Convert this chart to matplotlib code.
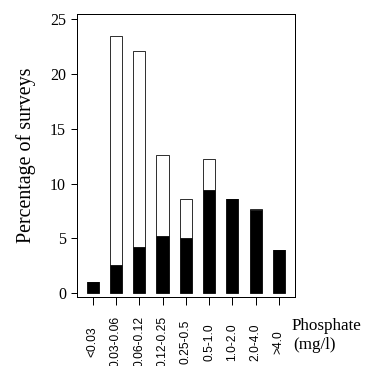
import matplotlib
matplotlib.use("Agg")
import matplotlib.pyplot as plt
import numpy as np

# phosphate classes (mg/l)
classes = ["<0.03", "0.03-0.06", "0.06-0.12", "0.12-0.25", "0.25-0.5",
           "0.5-1.0", "1.0-2.0", "2.0-4.0", ">4.0"]
# black part of each bar and the bar's total height (% of surveys)
black_part = [1.0, 2.6, 4.25, 5.2, 5.05, 9.4, 8.6, 7.55, 3.9]
bar_total = [1.0, 23.5, 22.1, 12.6, 8.6, 12.2, 8.6, 7.7, 3.9]
yticks = [0, 5, 10, 15, 20, 25]

serif = ["Liberation Serif", "DejaVu Serif"]

fig = plt.figure(figsize=(368 / 72, 366 / 72), dpi=72)
ax = fig.add_axes([0.209, 0.189, 0.593, 0.773])

x = np.arange(len(classes))
white_part = [t - b for t, b in zip(bar_total, black_part)]
ax.bar(x, black_part, width=0.52, color="black", edgecolor="black", linewidth=0.8)
ax.bar(x, white_part, width=0.52, bottom=black_part, color="white",
       edgecolor="black", linewidth=0.8)

ax.set_xlim(-0.68, 8.7)
ax.set_ylim(-0.34, 25.48)

ax.set_yticks(yticks)
ax.set_yticklabels([str(v) for v in yticks], fontfamily=serif, fontsize=16)
ax.tick_params(axis="y", direction="out", length=6, width=1, pad=5)

ax.set_xticks(x)
ax.set_xticklabels(classes, rotation=90, va="center",
                   fontfamily=["Liberation Sans Narrow", "Liberation Sans"],
                   fontsize=12)
ax.tick_params(axis="x", direction="out", length=8, width=1, pad=37)

for s in ax.spines.values():
    s.set_linewidth(1.0)

ax.set_ylabel("Percentage of surveys", fontfamily=serif, fontsize=20, labelpad=14)

fig.text(292 / 368, 1 - 330 / 366, "Phosphate", fontfamily=serif, fontsize=17,
         ha="left", va="baseline")
fig.text(293 / 368, 1 - 349 / 366, "(mg/l)", fontfamily=serif, fontsize=17,
         ha="left", va="baseline")

fig.savefig("out.png", dpi=72)
